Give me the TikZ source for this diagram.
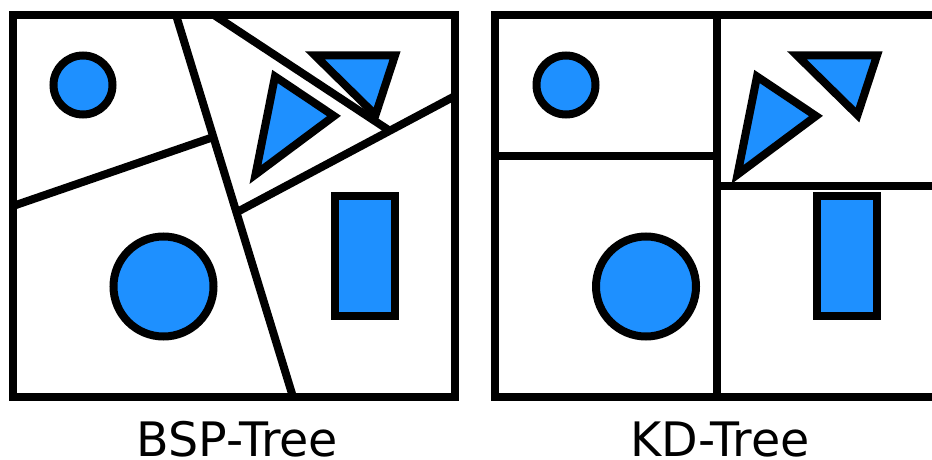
\documentclass[tikz,border=0pt]{standalone}
\usepackage{fontspec}
\setmainfont{DejaVu Sans}
\usetikzlibrary{positioning}
\definecolor{objblue}{RGB}{30,144,255}
\tikzset{
  frame/.style={draw, line width=8pt},
  cut/.style={draw, line width=8pt},
  obj/.style={draw, fill=objblue, line width=8pt, inner sep=0pt},
  ball/.style={obj, circle},
  brick/.style={obj, rectangle, minimum width=60pt, minimum height=120pt},
  caption/.style={anchor=base, inner sep=0pt, font=\fontsize{47.5}{56}\selectfont},
}

\begin{document}
\begin{tikzpicture}[x=1pt, y=-1pt]
  \useasboundingbox (0,0) rectangle (932,460);

  % BSP tree
  \draw[frame] (13,15) rectangle (455,397);
  \coordinate (bspa) at (176,15);
  \coordinate (bspb) at (293,397);
  \coordinate (bspc) at (13,206);
  \coordinate (bspd) at (213.5,137);
  \coordinate (bspe) at (236,212.6);
  \coordinate (bspf) at (455,96);
  \coordinate (bspg) at (214,15);
  \coordinate (bsph) at (390,131);
  \draw[cut] (bspa) -- (bspb);
  \draw[cut] (bspc) -- (bspd);
  \draw[cut] (bspe) -- (bspf);
  \draw[cut] (bspg) -- (bsph);
  \node[ball, minimum size=59pt] (bspsmall) at (83,85) {};
  \node[ball, minimum size=100pt] (bspbig) at (163.5,286.5) {};
  \node[brick] (bspbrick) at (365,256) {};
  \draw[obj] (275,76.5) -- (334,116) -- (255.5,174.5) -- cycle;
  \draw[obj] (315,55.5) -- (395,55.5) -- (375.5,115) -- cycle;
  \node[caption] (bsplabel) at (237.5,456) {BSP-Tree};

  % KD tree
  \draw[frame] (495,15) rectangle (937,397);
  \coordinate (kda) at (717,15);
  \coordinate (kdb) at (717,397);
  \coordinate (kdc) at (495,155.5);
  \coordinate (kdd) at (717,155.5);
  \coordinate (kde) at (717,186);
  \coordinate (kdf) at (937,186);
  \draw[cut] (kda) -- (kdb);
  \draw[cut] (kdc) -- (kdd);
  \draw[cut] (kde) -- (kdf);
  \node[ball, minimum size=59pt] (kdsmall) at (566,85) {};
  \node[ball, minimum size=100pt] (kdbig) at (646,286.5) {};
  \node[brick] (kdbrick) at (847,256) {};
  \draw[obj] (757,76.5) -- (816,116) -- (737.5,174.5) -- cycle;
  \draw[obj] (797,55.5) -- (877,55.5) -- (857.5,115) -- cycle;
  \node[caption] (kdlabel) at (720,456) {KD-Tree};
\end{tikzpicture}
\end{document}
